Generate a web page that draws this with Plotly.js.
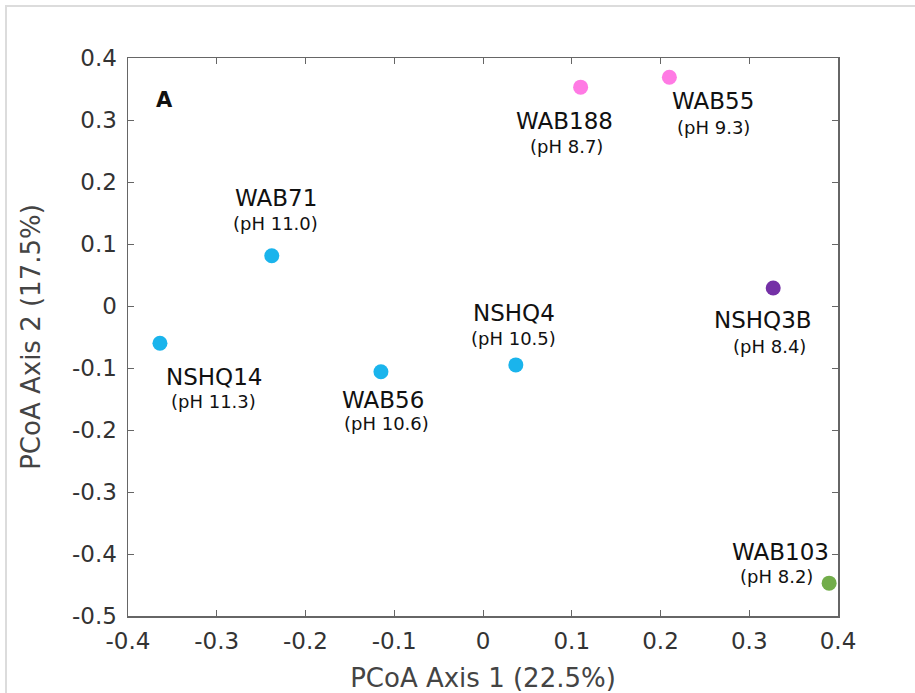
<!DOCTYPE html>
<html>
<head>
<meta charset="utf-8">
<script src="https://cdn.plot.ly/plotly-3.0.1.min.js"></script>
<style>
html,body{margin:0;padding:0;background:#fff;}
#wrap{position:relative;width:915px;height:693px;}
#chart{width:915px;height:693px;}
#frame{position:absolute;left:5px;top:5px;right:0;bottom:0;border-top:2px solid #dcdcdc;border-left:2px solid #dcdcdc;pointer-events:none;}
</style>
</head>
<body>
<div id="wrap"><div id="chart"></div><div id="frame"></div></div>
<script>
// Data
var samples = ["NSHQ14","WAB71","WAB56","NSHQ4","WAB188","WAB55","NSHQ3B","WAB103"];
var phLabels = ["(pH 11.3)","(pH 11.0)","(pH 10.6)","(pH 10.5)","(pH 8.7)","(pH 9.3)","(pH 8.4)","(pH 8.2)"];
var axis1 = [-0.364, -0.238, -0.115, 0.037, 0.110, 0.210, 0.327, 0.390];
var axis2 = [-0.060, 0.081, -0.106, -0.095, 0.353, 0.369, 0.029, -0.447];
var colors = ["#1ab4ec","#1ab4ec","#1ab4ec","#1ab4ec","#ff7ae4","#ff7ae4","#7430a6","#72ad4a"];
var xTicks = [-0.4,-0.3,-0.2,-0.1,0,0.1,0.2,0.3,0.4];
var yTicks = [0.4,0.3,0.2,0.1,0,-0.1,-0.2,-0.3,-0.4,-0.5];

// label offsets in pixels (name and pH line) relative to each point
var nameOff = [[54,34],[4,-58],[2,28],[-2,-52],[-16,34],[44,24],[-10,32],[-49,-31]];
var phOff   = [[54,58],[4,-32],[6,52],[-2,-26],[-14,59],[44,50],[-4,58],[-53,-7]];

var fontFam = "'DejaVu Sans', Verdana, sans-serif";
var annotations = [];
for (var i = 0; i < samples.length; i++) {
  annotations.push({x: axis1[i], y: axis2[i], xref: 'x', yref: 'y', text: samples[i],
    showarrow: false, xanchor: 'center', yanchor: 'middle',
    xshift: nameOff[i][0], yshift: -nameOff[i][1],
    font: {family: fontFam, size: 23, color: '#111'}});
  annotations.push({x: axis1[i], y: axis2[i], xref: 'x', yref: 'y', text: phLabels[i],
    showarrow: false, xanchor: 'center', yanchor: 'middle',
    xshift: phOff[i][0], yshift: -phOff[i][1],
    font: {family: fontFam, size: 18, color: '#111'}});
}
annotations.push({x: 0.052, y: 0.925, xref: 'paper', yref: 'paper', text: '<b>A</b>',
  xanchor: 'center', yanchor: 'middle',
  showarrow: false, font: {family: fontFam, size: 21, color: '#111'}});

var trace = {
  x: axis1, y: axis2, type: 'scatter', mode: 'markers',
  marker: {color: colors, size: 15},
  text: samples, hoverinfo: 'text'
};

var axisCommon = {
  showgrid: false, zeroline: false, showline: true, linecolor: '#666', linewidth: 1.5,
  mirror: 'ticks', ticks: 'inside', ticklen: 6, tickcolor: '#666', tickwidth: 1,
  tickfont: {family: fontFam, size: 23, color: '#333'}
};

var layout = {
  width: 915, height: 693,
  margin: {l: 128, r: 77, t: 58, b: 77},
  paper_bgcolor: 'rgba(0,0,0,0)', plot_bgcolor: '#fff',
  showlegend: false,
  xaxis: Object.assign({}, axisCommon, {
    range: [-0.4, 0.4], tickvals: xTicks, ticktext: xTicks.map(String),
    ticklabelstandoff: 4,
    title: {text: 'PCoA Axis 1 (22.5%)', font: {family: fontFam, size: 26, color: '#444'}, standoff: 16}
  }),
  yaxis: Object.assign({}, axisCommon, {
    range: [-0.5, 0.4], tickvals: yTicks, ticktext: yTicks.map(String),
    ticklabelstandoff: 5,
    title: {text: 'PCoA Axis 2 (17.5%)', font: {family: fontFam, size: 26, color: '#444'}, standoff: 24}
  }),
  annotations: annotations
};

Plotly.newPlot('chart', [trace], layout, {displayModeBar: false, staticPlot: true});
</script>
</body>
</html>
